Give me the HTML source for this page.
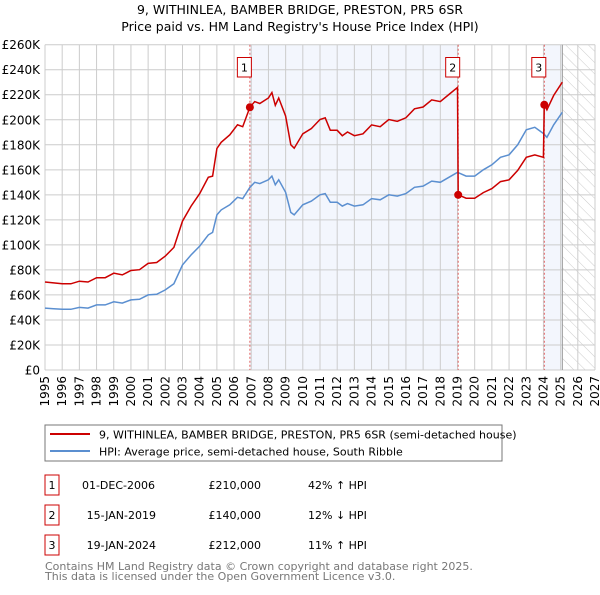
<!DOCTYPE html>
<html><head><meta charset="utf-8"><style>
body{margin:0;background:#fff;font-family:"Liberation Sans","DejaVu Sans",sans-serif;}
svg text{font-family:"DejaVu Sans","Liberation Sans",sans-serif;}
</style></head><body>
<svg id="c" width="600" height="590" xmlns="http://www.w3.org/2000/svg">
<defs><pattern id="hatch" width="8" height="8" patternUnits="userSpaceOnUse" patternTransform="rotate(-45)"><line x1="0" y1="0" x2="0" y2="8" stroke="#ccc" stroke-width="1"/></pattern></defs>
<text x="300" y="14" text-anchor="middle" font-size="12.5" fill="#000">9, WITHINLEA, BAMBER BRIDGE, PRESTON, PR5 6SR</text>
<text x="300" y="31" text-anchor="middle" font-size="12.5" fill="#000">Price paid vs. HM Land Registry's House Price Index (HPI)</text>
<g id="plot"></g>
<g>
<rect x="45" y="425" width="457" height="36" fill="#fff" stroke="#777"/>
<line x1="50" y1="434" x2="90" y2="434" stroke="#cc0000" stroke-width="2"/>
<text x="99" y="438.5" font-size="11">9, WITHINLEA, BAMBER BRIDGE, PRESTON, PR5 6SR (semi-detached house)</text>
<line x1="50" y1="451" x2="90" y2="451" stroke="#5b8fd0" stroke-width="2"/>
<text x="99" y="455.5" font-size="11">HPI: Average price, semi-detached house, South Ribble</text>
</g>
<g font-size="11">
<rect x="45" y="475" width="14" height="20" fill="#fff" stroke="#cc0000"/><text x="52" y="489" text-anchor="middle">1</text>
<text x="155" y="489" text-anchor="end">01-DEC-2006</text><text x="261" y="489" text-anchor="end">£210,000</text><text x="308" y="489">42% ↑ HPI</text>
<rect x="45" y="505" width="14" height="20" fill="#fff" stroke="#cc0000"/><text x="52" y="519" text-anchor="middle">2</text>
<text x="156" y="519" text-anchor="end">15-JAN-2019</text><text x="261" y="519" text-anchor="end">£140,000</text><text x="308" y="519">12% ↓ HPI</text>
<rect x="45" y="535" width="14" height="20" fill="#fff" stroke="#cc0000"/><text x="52" y="549" text-anchor="middle">3</text>
<text x="156" y="549" text-anchor="end">19-JAN-2024</text><text x="261" y="549" text-anchor="end">£212,000</text><text x="308" y="549">11% ↑ HPI</text>
</g>
<text x="45" y="570" font-size="11" fill="#777">Contains HM Land Registry data © Crown copyright and database right 2025.</text>
<text x="45" y="580" font-size="11" fill="#777">This data is licensed under the Open Government Licence v3.0.</text>
</svg>
<script>
const yTicks=[0,20,40,60,80,100,120,140,160,180,200,220,240,260];
const xYears=[1995,1996,1997,1998,1999,2000,2001,2002,2003,2004,2005,2006,2007,2008,2009,2010,2011,2012,2013,2014,2015,2016,2017,2018,2019,2020,2021,2022,2023,2024,2025,2026,2027];
const hpiYears=[1995,1995.5,1996,1996.5,1997,1997.5,1998,1998.5,1999,1999.5,2000,2000.5,2001,2001.5,2002,2002.5,2003,2003.5,2004,2004.5,2004.75,2005,2005.25,2005.75,2006.2,2006.5,2006.92,2007.2,2007.5,2008,2008.2,2008.4,2008.6,2009,2009.3,2009.5,2010,2010.5,2011,2011.3,2011.6,2012,2012.3,2012.6,2013,2013.5,2014,2014.5,2015,2015.5,2016,2016.5,2017,2017.5,2018,2018.5,2019,2019.5,2020,2020.5,2021,2021.5,2022,2022.5,2023,2023.5,2024,2024.2,2024.6,2025.1];
const hpiValues=[49.5,49,48.5,48.5,50,49.5,52,52,54.5,53.5,56,56.5,60,60.5,64,69,84,92,99,108,110,124,128,132,138,137,146,150,149,152,155,148,152,142,126,124,132,135,140,141,134,134,131,133,131,132,137,136,140,139,141,146,147,151,150,154,158,155,155,160,164,170,172,180,192,194,189,186,196,206];
const priceYears=[1995,1995.5,1996,1996.5,1997,1997.5,1998,1998.5,1999,1999.5,2000,2000.5,2001,2001.5,2002,2002.5,2003,2003.5,2004,2004.5,2004.75,2005,2005.25,2005.75,2006.2,2006.5,2006.92,2007.2,2007.5,2008,2008.2,2008.4,2008.6,2009,2009.3,2009.5,2010,2010.5,2011,2011.3,2011.6,2012,2012.3,2012.6,2013,2013.5,2014,2014.5,2015,2015.5,2016,2016.5,2017,2017.5,2018,2018.5,2019,2019.04,2019.5,2020,2020.5,2021,2021.5,2022,2022.5,2023,2023.5,2024,2024.05,2024.2,2024.6,2025.1];
const priceValues=[70.3,69.6,68.9,68.9,71,70.3,73.8,73.8,77.4,76,79.5,80.2,85.2,85.9,91,98,119,131,141,154,155,177,182,188,196,194.5,210,214.5,213,217.4,221.7,211.6,217.4,203,180,177.3,188.8,193,200.2,201.6,191.6,191.6,187.3,190.2,187.3,188.8,195.9,194.5,200.2,198.8,201.6,208.8,210.2,215.9,214.5,220.2,225.9,140,137.3,137.3,141.8,145,150.6,152,159.5,170,171.9,170,212,208,219.5,230];
const saleYears=[2006.92,2019.04,2024.05];
const salePrices=[210,140,212];
const saleLabels=["1","2","3"];

const NS="http://www.w3.org/2000/svg";
const X0=45,X1=595,Y0=370,Y1=44.7;
const xs=y=>X0+(y-1995)/(2027-1995)*(X1-X0);
const ys=v=>Y0-v/260*(Y0-Y1);
const g=document.getElementById('plot');
function mk(t,a){const e=document.createElementNS(NS,t);for(const k in a)e.setAttribute(k,a[k]);g.appendChild(e);return e;}
let e;
e=mk('rect',{x:xs(saleYears[0]),y:Y1,width:xs(saleYears[1])-xs(saleYears[0]),height:Y0-Y1,fill:'#f3f6fd'});


e=mk('rect',{x:xs(saleYears[2]),y:Y1,width:xs(2025.1)-xs(saleYears[2]),height:Y0-Y1,fill:'#f3f6fd'});


e=mk('rect',{x:xs(2025.1),y:Y1,width:X1-xs(2025.1),height:Y0-Y1,fill:'url(#hatch)'});


yTicks.forEach(v=>{
 e=mk('line',{x1:X0,x2:X1,y1:ys(v),y2:ys(v),stroke:'#ccc','stroke-width':1});
 
 
 e=mk('text',{x:X0-5,y:ys(v)+4.5,'text-anchor':'end','font-size':12});
 e.textContent=v===0?'£0':'£'+v+'K';
 
 
});
xYears.forEach(yr=>{
 e=mk('line',{x1:xs(yr),x2:xs(yr),y1:Y1,y2:Y0,stroke:'#ccc','stroke-width':1});
 
 
 e=mk('text',{x:0,y:0,'font-size':12,'text-anchor':'end',transform:`translate(${xs(yr)+4},${Y0+6}) rotate(-90)`});
 e.textContent=yr;
 
 
});
e=mk('line',{x1:xs(2025.1),x2:xs(2025.1),y1:Y1,y2:Y0,stroke:'#999','stroke-width':1});


saleYears.forEach((yr,i)=>{
 e=mk('line',{x1:xs(yr),x2:xs(yr),y1:Y1,y2:Y0,stroke:'#e06060','stroke-width':1,'stroke-dasharray':'2,2'});
 
 
});
function pts(xa,va){return xa.map((x,i)=>xs(x).toFixed(1)+','+ys(va[i]).toFixed(1)).join(' ');}
e=mk('polyline',{points:pts(hpiYears,hpiValues),fill:'none',stroke:'#5b8fd0','stroke-width':1.5});


e=mk('polyline',{points:pts(priceYears,priceValues),fill:'none',stroke:'#cc0000','stroke-width':1.5});


saleYears.forEach((yr,i)=>{
 e=mk('circle',{cx:xs(yr),cy:ys(salePrices[i]),r:4,fill:'#cc0000'});
 
 
 e=mk('rect',{x:xs(yr)-12.5,y:57.5,width:14,height:19.5,fill:'#fff',stroke:'#cc0000','stroke-width':1});
 
 
 e=mk('text',{x:xs(yr)-5.5,y:71.5,'text-anchor':'middle','font-size':11});
 e.textContent=saleLabels[i];
 
 
});
</script>
</body></html>
